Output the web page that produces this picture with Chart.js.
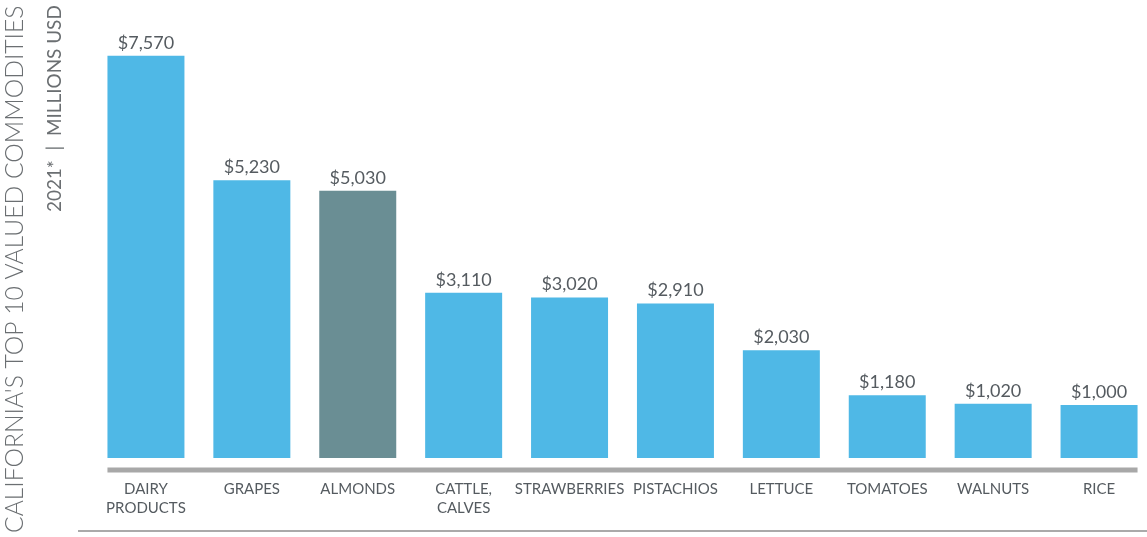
<!DOCTYPE html>
<html>
<head>
<meta charset="utf-8">
<script src="https://cdn.jsdelivr.net/npm/chart.js@4"></script>
<style>
  html, body { margin: 0; padding: 0; background: #fff; overflow: hidden; }
  #wrap { width: 1147px; height: 537px; overflow: hidden; }
</style>
</head>
<body>
<div id="wrap"><canvas id="chart" width="1160" height="539"></canvas></div>
<script>
const categories = [['DAIRY', 'PRODUCTS'], 'GRAPES', 'ALMONDS', ['CATTLE,', 'CALVES'], 'STRAWBERRIES',
    'PISTACHIOS', 'LETTUCE', 'TOMATOES', 'WALNUTS', 'RICE'];
const values = [7570, 5230, 5030, 3110, 3020, 2910, 2030, 1180, 1020, 1000];
const title = "CALIFORNIA'S TOP 10 VALUED COMMODITIES";
const subtitle = '2021*  |  MILLIONS USD';

const BLUE = '#4fb8e6';
const TEAL = '#6a8e94';
const barColors = categories.map((c, i) => i === 2 ? TEAL : BLUE);

// value labels above bars
const valueLabels = {
    id: 'valueLabels',
    afterDatasetsDraw(chart) {
        const ctx = chart.ctx;
        const meta = chart.getDatasetMeta(0);
        ctx.save();
        ctx.font = '18px Lato';
        ctx.fillStyle = '#555b60';
        ctx.textAlign = 'center';
        ctx.textBaseline = 'bottom';
        meta.data.forEach((bar, i) => {
            ctx.fillText('$' + values[i].toLocaleString('en-US'), bar.x, bar.y - 4);
        });
        ctx.restore();
    }
};

// draw text rotated, sized so it fills the given length
function sideText(ctx, text, x, yStart, len, weight, maxSize) {
    ctx.save();
    ctx.font = weight + ' 20px Lato';
    let size = Math.min(maxSize, 20 * len / ctx.measureText(text).width);
    ctx.font = weight + ' ' + size + 'px Lato';
    ctx.fillStyle = '#6b6f72';
    ctx.textAlign = 'left';
    ctx.textBaseline = 'middle';
    ctx.translate(x, yStart);
    ctx.rotate(-Math.PI / 2);
    ctx.fillText(text, 0, 0);
    ctx.restore();
}

// side titles + baseline rules
const decorations = {
    id: 'decorations',
    afterDraw(chart) {
        const ctx = chart.ctx;
        const meta = chart.getDatasetMeta(0);
        const first = meta.data[0], last = meta.data[meta.data.length - 1];
        const area = chart.chartArea;
        ctx.save();
        // thick axis line
        ctx.strokeStyle = '#a8a8a8';
        ctx.lineWidth = 5;
        ctx.beginPath();
        ctx.moveTo(first.x - first.width / 2, area.bottom + 12);
        ctx.lineTo(last.x + last.width / 2, area.bottom + 12);
        ctx.stroke();
        // bottom rule
        ctx.strokeStyle = '#aaaaaa';
        ctx.lineWidth = 2;
        ctx.beginPath();
        ctx.moveTo(78, 531);
        ctx.lineTo(chart.width, 531);
        ctx.stroke();
        ctx.restore();
        sideText(ctx, title, 15, 533, 528, 300, 30);
        sideText(ctx, subtitle, 55, 212, 207, 400, 20);
    }
};

new Chart(document.getElementById('chart'), {
    type: 'bar',
    data: {
        labels: categories,
        datasets: [{
            data: values,
            backgroundColor: barColors,
            borderWidth: 0,
            categoryPercentage: 1,
            barPercentage: 0.727
        }]
    },
    options: {
        responsive: false,
        animation: false,
        layout: { padding: { left: 93, right: 8, top: 33, bottom: 8 } },
        plugins: { legend: { display: false }, tooltip: { enabled: false } },
        scales: {
            x: {
                grid: { display: false },
                border: { display: false },
                ticks: {
                    padding: 13,
                    maxRotation: 0,
                    autoSkip: false,
                    color: '#555b60',
                    font: { family: 'Lato', size: 15, lineHeight: 1.3 }
                }
            },
            y: {
                display: false,
                min: 0,
                max: 8000
            }
        }
    },
    plugins: [valueLabels, decorations]
});
</script>
</body>
</html>
